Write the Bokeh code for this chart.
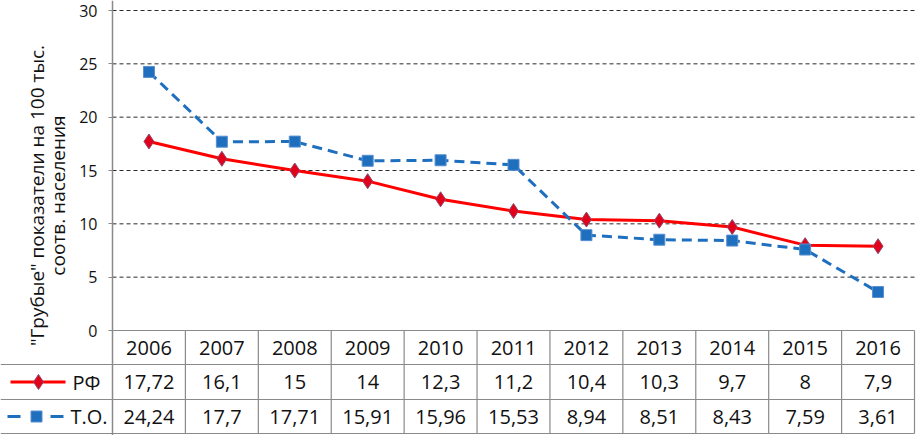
import math
from bokeh.plotting import figure
from bokeh.models import Range1d, FixedTicker
from bokeh.embed import file_html
from bokeh.resources import INLINE
from bokeh.core.properties import value

# ---------------- data ----------------
years = ["2006", "2007", "2008", "2009", "2010", "2011", "2012", "2013", "2014", "2015", "2016"]
rf_values = [17.72, 16.1, 15, 14, 12.3, 11.2, 10.4, 10.3, 9.7, 8, 7.9]
to_values = [24.24, 17.7, 17.71, 15.91, 15.96, 15.53, 8.94, 8.51, 8.43, 7.59, 3.61]
series_names = ["РФ", "Т.О."]
y_ticks = [0, 5, 10, 15, 20, 25, 30]
y_title_lines = ['"Грубые" показатели на 100 тыс.', "соотв. населения"]


def fmt(v):
    return f"{v:g}".replace(".", ",")


# ---------------- layout constants (pixels) ----------------
FONT = "Open Sans"
W, H = 916, 435
LEFT = 112          # x pixel of the value axis
RIGHT_EDGE = 914    # x pixel of the table's right border
TOP_Y = 10          # pixel row of the top tick
ZERO_Y = 330        # pixel row of zero
ROW_PX = [34, 35, 34]   # header, row 1, row 2 heights

n = len(years)
px_cat = (RIGHT_EDGE - LEFT) / n
y_max = y_ticks[-1]
px_y = (ZERO_Y - TOP_Y) / y_max

x_start = -LEFT / px_cat
x_end = (W - LEFT) / px_cat
y_end = y_max + TOP_Y / px_y
y_start = -(H - ZERO_Y) / px_y

# row boundaries in data units
b0 = 0.0
b1 = -ROW_PX[0] / px_y
b2 = b1 - ROW_PX[1] / px_y
b3 = b2 - ROW_PX[2] / px_y


def cx(px):
    return x_start + px / px_cat


def cy(py):
    return (ZERO_Y - py) / px_y


RED = "#FF0000"
BLUE = "#1F6FBF"
GRID = "#2A2A2A"
BORDER = "#8A8A8A"
TXT = "#111111"
TABLE_FS = "20px"

xs = [i + 0.5 for i in range(n)]

p = figure(width=W, height=H, x_range=Range1d(x_start, x_end), y_range=Range1d(y_start, y_end),
           x_axis_location=None, output_backend="svg", toolbar_location=None,
           min_border_left=0, min_border_right=0, min_border_top=0, min_border_bottom=0)
p.outline_line_color = None
p.background_fill_color = "white"
p.border_fill_color = "white"
p.grid.visible = False

ax = p.yaxis[0]
ax.fixed_location = 0
ax.ticker = FixedTicker(ticks=y_ticks)
ax.axis_line_color = BORDER
ax.axis_line_width = 1.5
ax.major_tick_line_color = BORDER
ax.major_tick_out = 4
ax.major_tick_in = 0
ax.minor_tick_out = 0
ax.minor_tick_in = 0
ax.major_label_text_font = FONT
ax.major_label_text_font_size = "16px"
ax.major_label_text_color = TXT
ax.major_label_standoff = 11

# dashed horizontal grid from the tick values (above zero)
gy = y_ticks[1:]
p.segment(x0=[0] * len(gy), y0=gy, x1=[n] * len(gy), y1=gy,
          line_color=GRID, line_dash="4 3", line_width=1)

# axis title (two rotated lines)
p.text(x=[cx(36), cx(57)], y=[cy(195)] * 2, text=y_title_lines, angle=math.pi / 2,
       text_align="center", text_baseline="middle", text_font=value(FONT),
       text_font_size="19px", text_color=TXT)

# ---------------- data table ----------------
p.segment(x0=[0, x_start, x_start, x_start], y0=[b0, b1, b2, b3],
          x1=[n] * 4, y1=[b0, b1, b2, b3], line_color=BORDER, line_width=1.2)
p.segment(x0=list(range(1, n + 1)), y0=[b0] * n, x1=list(range(1, n + 1)), y1=[b3] * n,
          line_color=BORDER, line_width=1.2)

p.text(x=xs, y=[(b0 + b1) / 2] * n, text=years, text_align="center", text_baseline="middle",
       text_font=value(FONT), text_font_size=TABLE_FS, text_color=TXT)
row_y = [(b1 + b2) / 2, (b2 + b3) / 2]
for vals, ry in zip([rf_values, to_values], row_y):
    p.text(x=xs, y=[ry] * n, text=[fmt(v) for v in vals], text_align="center",
           text_baseline="middle", text_font=value(FONT), text_font_size=TABLE_FS, text_color=TXT)

# legend keys in the label column
p.line([cx(10), cx(65)], [row_y[0]] * 2, line_color=RED, line_width=3)
p.scatter([cx(38)], [row_y[0]], marker="diamond", size=15, fill_color="#E3001B",
          line_color="#8B4A6B", line_width=1)
p.segment(x0=[cx(7), cx(50)], y0=[row_y[1]] * 2, x1=[cx(20), cx(63)], y1=[row_y[1]] * 2,
          line_color=BLUE, line_width=3)
p.scatter([cx(36)], [row_y[1]], marker="square", size=11, fill_color=BLUE,
          line_color="#5A8FD0", line_width=1)
p.text(x=[cx(72), cx(70)], y=row_y, text=series_names, text_align="left", text_baseline="middle",
       text_font=value(FONT), text_font_size=TABLE_FS, text_color=TXT)

# ---------------- series ----------------
p.line(xs, rf_values, line_color=RED, line_width=3)
p.scatter(xs, rf_values, marker="diamond", size=15, fill_color="#E3001B",
          line_color="#8B4A6B", line_width=1)
p.line(xs, to_values, line_color=BLUE, line_width=3, line_dash="10 6")
p.scatter(xs, to_values, marker="square", size=11, fill_color=BLUE,
          line_color="#5A8FD0", line_width=1)

open("out.html", "w").write(file_html(p, INLINE))
